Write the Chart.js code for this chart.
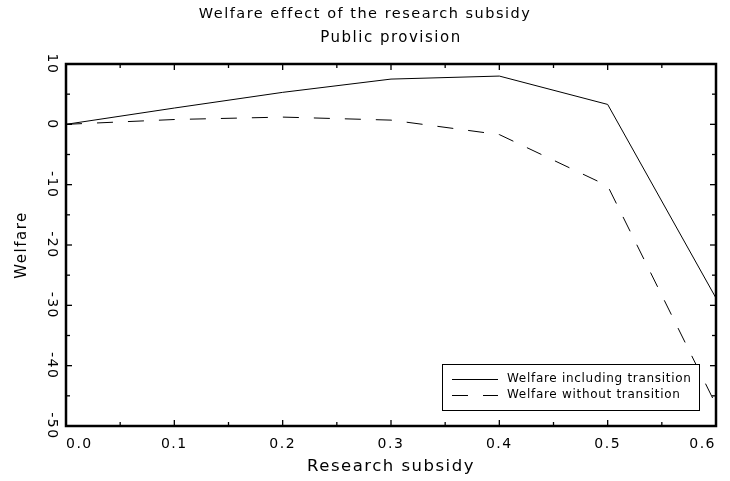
<!DOCTYPE html>
<html><head><meta charset="utf-8">
<script src="https://cdn.jsdelivr.net/npm/chart.js@4"></script>
<style>html,body{margin:0;padding:0;background:#fff}</style>
</head><body>
<canvas id="c" width="730" height="481"></canvas>
<script>
const subsidy = [0, 0.1, 0.2, 0.3, 0.4, 0.5, 0.6];
const welfareIncluding = [0, 2.7, 5.3, 7.5, 8.0, 3.3, -28.8];
const welfareWithout = [0, 0.8, 1.2, 0.7, -1.7, -10.2, -46.5];
const seriesLabels = ['Welfare including transition', 'Welfare without transition'];
const xTickLabels = ['0.0', '0.1', '0.2', '0.3', '0.4', '0.5', '0.6'];
const yTickLabels = ['10', '0', '-10', '-20', '-30', '-40', '-50'];
const titleText = 'Welfare effect of the research subsidy';
const subtitleText = 'Public provision';
const xTitle = 'Research subsidy';
const yTitle = 'Welfare';

const F = "'DejaVu Sans', sans-serif";
const LS = '1.5px';

const spacing = {
  id: 'spacing',
  beforeLayout(chart) { chart.ctx.letterSpacing = LS; },
  beforeDraw(chart) { chart.ctx.letterSpacing = LS; }
};

const frame = {
  id: 'frame',
  afterDatasetsDraw(chart) {
    const {ctx, chartArea: {left, top, right, bottom}, scales: {x, y}} = chart;
    ctx.save();
    ctx.strokeStyle = '#000';
    ctx.lineWidth = 1.3;
    const seg = (a, b, c, d) => { ctx.beginPath(); ctx.moveTo(a, b); ctx.lineTo(c, d); ctx.stroke(); };
    x.ticks.forEach(t => {
      const px = x.getPixelForValue(t.value);
      const len = t.label ? 6 : 4;
      seg(px, bottom, px, bottom - len);
      seg(px, top, px, top + len);
    });
    y.ticks.forEach(t => {
      const py = y.getPixelForValue(t.value);
      const len = t.label ? 6 : 4;
      seg(left, py, left + len, py);
      seg(right, py, right - len, py);
    });
    ctx.lineWidth = 2.5;
    ctx.strokeRect(left, top, right - left, bottom - top);
    ctx.restore();
  }
};

const boxLegend = {
  id: 'boxLegend',
  afterDraw(chart) {
    const {ctx, chartArea: {right, bottom}} = chart;
    const w = 257, h = 46;
    const bx = right - 17 - w, by = bottom - 16 - h;
    ctx.save();
    ctx.fillStyle = '#fff';
    ctx.fillRect(bx, by, w, h);
    ctx.strokeStyle = '#000';
    ctx.lineWidth = 1;
    ctx.strokeRect(bx + 0.5, by + 0.5, w, h);
    ctx.letterSpacing = '0.7px';
    ctx.font = "12px " + F;
    ctx.textBaseline = 'middle';
    ctx.fillStyle = '#000';
    chart.data.datasets.forEach((ds, i) => {
      const ry = by + 15 + i * 16;
      ctx.setLineDash(ds.borderDash || []);
      ctx.lineWidth = 1;
      ctx.beginPath();
      ctx.moveTo(bx + 10, ry + 0.5);
      ctx.lineTo(bx + 56, ry + 0.5);
      ctx.stroke();
      ctx.setLineDash([]);
      ctx.fillText(ds.label, bx + 65, ry);
    });
    ctx.restore();
  }
};

new Chart(document.getElementById('c'), {
  type: 'line',
  data: {
    datasets: [
      {
        label: seriesLabels[0],
        data: subsidy.map((s, i) => ({x: s, y: welfareIncluding[i]})),
        borderColor: '#000', borderWidth: 1, pointRadius: 0, tension: 0, fill: false
      },
      {
        label: seriesLabels[1],
        data: subsidy.map((s, i) => ({x: s, y: welfareWithout[i]})),
        borderColor: '#000', borderWidth: 1, borderDash: [16, 15], pointRadius: 0, tension: 0, fill: false
      }
    ]
  },
  options: {
    responsive: false,
    animation: false,
    devicePixelRatio: 1,
    layout: {padding: {left: 0, right: 0, top: 0, bottom: 0}},
    plugins: {
      legend: {display: false},
      tooltip: {enabled: false},
      title: {
        display: true, text: titleText, color: '#000',
        font: {family: F, size: 14.5, weight: 'normal'},
        padding: {top: 6, bottom: 5.4}
      },
      subtitle: {
        display: true, text: subtitleText, color: '#000', fullSize: false,
        font: {family: F, size: 15, weight: 'normal'},
        padding: {top: 0, bottom: 17.2}
      }
    },
    scales: {
      x: {
        type: 'linear', min: 0, max: 0.6,
        grid: {display: false}, border: {display: false},
        ticks: {
          stepSize: 0.05, autoSkip: false, maxRotation: 0, minRotation: 0,
          align: 'inner', padding: 2, color: '#000',
          font: {family: F, size: 14},
          callback: v => { const k = Math.round(v * 20); return k % 2 === 0 ? xTickLabels[k / 2] : ''; }
        },
        title: {
          display: true, text: xTitle, color: '#000',
          font: {family: F, size: 16.5}, padding: {top: 0, bottom: 4}
        },
        afterFit: s => { s.height = 55; }
      },
      y: {
        type: 'linear', min: -50, max: 10,
        grid: {display: false}, border: {display: false},
        ticks: {
          stepSize: 5, autoSkip: false, minRotation: -90, maxRotation: -90,
          crossAlign: 'center', padding: -7, color: '#000',
          font: {family: F, size: 14},
          callback: v => { const r = Math.round(v); return r % 10 === 0 ? yTickLabels[(10 - r) / 10] : ''; }
        },
        title: {
          display: true, text: yTitle, color: '#000',
          font: {family: F, size: 15}, padding: {top: 13, bottom: 0}
        },
        afterFit: s => { s.width = 66; }
      },
      yRight: {
        type: 'linear', position: 'right', min: -50, max: 10,
        grid: {display: false}, border: {display: false},
        ticks: {display: false},
        afterFit: s => { s.width = 14; }
      }
    }
  },
  plugins: [spacing, frame, boxLegend]
});
</script>
</body></html>
